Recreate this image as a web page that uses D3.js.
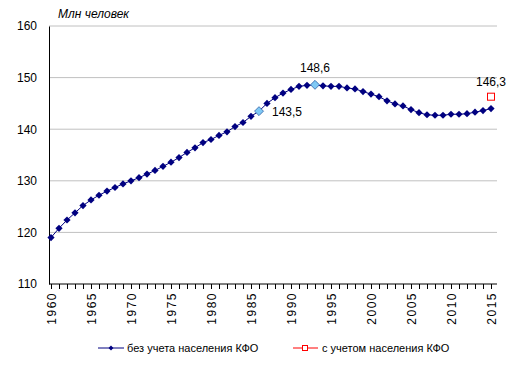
<!DOCTYPE html>
<html>
<head>
<meta charset="utf-8">
<script src="https://cdn.jsdelivr.net/npm/d3@7.9.0/dist/d3.min.js"></script>
<style>
  body { margin: 0; background: #fff; }
  svg { font-family: "Liberation Sans", Arial, sans-serif; }
</style>
</head>
<body>
<svg width="510" height="373"></svg>
<script>
// population of Russia, mln, 1 January
const years = d3.range(1960, 2016);
const withoutCrimea = [
  119.0, 120.8, 122.4, 123.8, 125.2, 126.3, 127.2, 128.0, 128.7, 129.4,
  130.0, 130.6, 131.3, 132.0, 132.8, 133.6, 134.5, 135.5, 136.4, 137.4,
  138.0, 138.8, 139.5, 140.5, 141.3, 142.5, 143.5, 145.0, 146.1, 147.0,
  147.7, 148.3, 148.5, 148.6, 148.4, 148.3, 148.3, 148.0, 147.8, 147.3,
  146.8, 146.3, 145.5, 144.9, 144.5, 143.8, 143.2, 142.8, 142.7, 142.7,
  142.9, 142.9, 143.0, 143.3, 143.6, 144.0
];
const withCrimea = [{ year: 2015, value: 146.3 }];
const highlighted = [{ year: 1986, label: "143,5" }, { year: 1993, label: "148,6" }];
const yTicks = [110, 120, 130, 140, 150, 160];
const xLabelYears = d3.range(1960, 2016, 5);
const legendNames = ["без учета населения КФО", "с учетом населения КФО"];

const data = years.map((y, i) => ({ year: y, value: withoutCrimea[i] }));

const svg = d3.select("svg");
const x = d3.scaleLinear().domain([1960, 2015]).range([51, 491]);
const y = d3.scaleLinear().domain([110, 160]).range([284, 26]);

// gridlines
svg.append("g")
  .selectAll("line")
  .data(yTicks.filter(d => d > 110))
  .join("line")
  .attr("x1", 49).attr("x2", 497)
  .attr("y1", d => y(d)).attr("y2", d => y(d))
  .attr("stroke", "#c0c0c0");

// y axis
const yAxis = svg.append("g")
  .attr("transform", "translate(49,0)")
  .call(d3.axisLeft(y).tickValues(yTicks).tickSize(0).tickPadding(12));
yAxis.select(".domain").attr("stroke", "#000");
yAxis.selectAll("text").attr("font-size", 12).attr("fill", "#000");

// x axis: tick every year, label every 5
const xAxis = svg.append("g")
  .attr("transform", "translate(0,284)")
  .call(d3.axisBottom(x).tickValues(years).tickSize(5)
    .tickFormat(d => xLabelYears.includes(d) ? d : ""));
xAxis.select(".domain").attr("d", "M49,0H497").attr("stroke", "#000");
xAxis.selectAll(".tick line").attr("stroke", "#000");
xAxis.selectAll("text")
  .attr("font-size", 12).attr("fill", "#000")
  .attr("transform", "rotate(-90)")
  .attr("text-anchor", "end")
  .attr("x", -8).attr("y", 0).attr("dy", "0.35em")
  .attr("letter-spacing", "1.5px");

// title
svg.append("text")
  .attr("x", 58).attr("y", 18)
  .attr("font-size", 12).attr("font-style", "italic")
  .text("Млн человек");

// line
const line = d3.line().x(d => x(d.year)).y(d => y(d.value));
svg.append("path")
  .datum(data)
  .attr("d", line)
  .attr("fill", "none")
  .attr("stroke", "#000080")
  .attr("stroke-width", 1);

const diamond = d3.symbol().type(d3.symbolSquare);
const isHi = d => highlighted.some(h => h.year === d.year);

svg.append("g")
  .selectAll("path")
  .data(data)
  .join("path")
  .attr("d", d => diamond.size(isHi(d) ? 40 : 26)())
  .attr("transform", d => `translate(${x(d.year)},${y(d.value)}) rotate(45)`)
  .attr("fill", d => isHi(d) ? "#7fc9f5" : "#000080")
  .attr("stroke", d => isHi(d) ? "#3366aa" : "none")
  .attr("stroke-width", 0.8);

// data labels
const byYear = new Map(data.map(d => [d.year, d.value]));
svg.append("text")
  .attr("x", x(1986) + 13).attr("y", y(byYear.get(1986)) + 5)
  .attr("font-size", 12).text(highlighted[0].label);
svg.append("text")
  .attr("x", x(1993)).attr("y", y(byYear.get(1993)) - 13)
  .attr("text-anchor", "middle")
  .attr("font-size", 12).text(highlighted[1].label);

// with Crimea
svg.append("g")
  .selectAll("rect")
  .data(withCrimea)
  .join("rect")
  .attr("x", d => x(d.year) - 3.5).attr("y", d => y(d.value) - 3.5)
  .attr("width", 7).attr("height", 7)
  .attr("fill", "#fff").attr("stroke", "#ff0000");
svg.append("text")
  .attr("x", x(withCrimea[0].year)).attr("y", y(withCrimea[0].value) - 11)
  .attr("text-anchor", "middle")
  .attr("font-size", 12).text("146,3");

// legend
const lg = svg.append("g").attr("font-size", 11);
lg.append("line").attr("x1", 98).attr("x2", 124).attr("y1", 348).attr("y2", 348)
  .attr("stroke", "#000080");
lg.append("path").attr("d", d3.symbol().type(d3.symbolSquare).size(12)())
  .attr("transform", "translate(111,348) rotate(45)").attr("fill", "#000080");
lg.append("text").attr("x", 127).attr("y", 352).text(legendNames[0]);
lg.append("line").attr("x1", 293).attr("x2", 318).attr("y1", 348).attr("y2", 348)
  .attr("stroke", "#ff0000");
lg.append("rect").attr("x", 302.5).attr("y", 345.5).attr("width", 5).attr("height", 5)
  .attr("fill", "#fff").attr("stroke", "#ff0000");
lg.append("text").attr("x", 322).attr("y", 352).text(legendNames[1]);
</script>
</body>
</html>
